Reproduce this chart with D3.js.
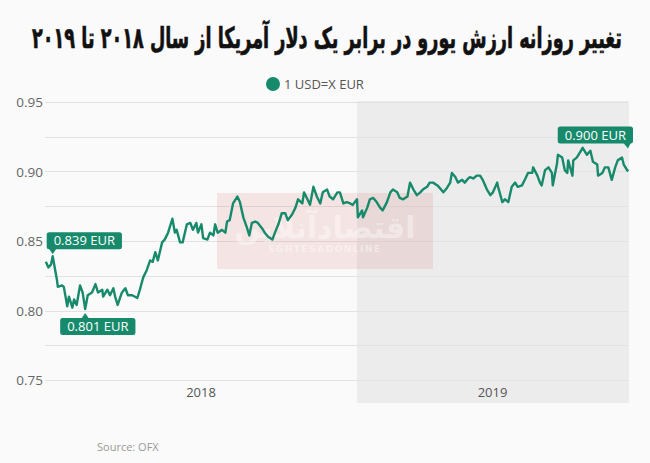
<!DOCTYPE html>
<html>
<head>
<meta charset="utf-8">
<script src="https://cdn.jsdelivr.net/npm/d3@7"></script>
<style>
  body { margin: 0; background: #fafafa; }
  svg { display: block; }
</style>
</head>
<body>
<script>
const WIDTH = 650;
const HEIGHT = 463;
const GREEN = '#178a6b';

const TITLE = 'تغییر روزانه ارزش یورو در برابر یک دلار آمریکا از سال ۲۰۱۸ تا ۲۰۱۹';
const SERIES_NAME = '1 USD=X EUR';
const SOURCE = 'Source: OFX';

// days since 1 Jan 2018, and the USD->EUR rate
const dayOffsets = [
  1, 4, 7, 9, 14, 15, 20, 22, 26, 28, 32, 34, 37, 41, 44, 47, 50, 55, 59, 62,
  67, 68, 73, 76, 80, 82, 85, 90, 94, 97, 102, 108, 111, 115, 119, 123, 126, 129, 132, 137,
  140, 144, 149, 152, 154, 158, 161, 166, 170, 173, 177, 179, 183, 185, 190, 193, 197, 199, 202, 207,
  211, 213, 216, 220, 225, 228, 232, 236, 239, 242, 246, 249, 254, 257, 261, 266, 269, 273, 277, 281,
  284, 289, 293, 296, 301, 303, 307, 310, 314, 318, 322, 325, 330, 333, 337, 342, 345, 349, 353, 357,
  360, 365, 366, 371, 372, 377, 380, 384, 388, 392, 395, 400, 404, 407, 412, 415, 419, 424, 427, 431,
  435, 439, 442, 447, 450, 454, 459, 462, 466, 470, 474, 476, 480, 483, 488, 491, 495, 497, 501, 505,
  509, 512, 517, 521, 524, 529, 530, 535, 538, 542, 546, 550, 553, 558, 562, 565, 570, 571, 576, 579,
  581, 585, 589, 593, 594, 599, 600, 605, 608, 611, 612, 617, 618, 622, 626, 629, 634, 638, 641, 646,
  647, 652, 655, 659, 663, 667, 670, 675, 677, 682
];
const rates = [
  0.835, 0.831, 0.833, 0.839, 0.822, 0.817, 0.818, 0.817, 0.803, 0.810, 0.802, 0.808, 0.804, 0.818, 0.813, 0.801, 0.811, 0.813, 0.819, 0.813,
  0.815, 0.810, 0.815, 0.811, 0.816, 0.810, 0.804, 0.813, 0.816, 0.811, 0.811, 0.809, 0.815, 0.824, 0.829, 0.836, 0.835, 0.842, 0.836, 0.849,
  0.851, 0.856, 0.866, 0.856, 0.858, 0.849, 0.849, 0.862, 0.863, 0.858, 0.863, 0.856, 0.862, 0.852, 0.851, 0.856, 0.854, 0.862, 0.856, 0.858,
  0.856, 0.864, 0.865, 0.877, 0.882, 0.878, 0.867, 0.860, 0.854, 0.863, 0.864, 0.863, 0.859, 0.856, 0.853, 0.851, 0.856, 0.862, 0.870, 0.870,
  0.865, 0.869, 0.874, 0.880, 0.877, 0.885, 0.880, 0.876, 0.889, 0.882, 0.877, 0.885, 0.887, 0.882, 0.880, 0.885, 0.885, 0.877, 0.878, 0.877,
  0.876, 0.880, 0.867, 0.872, 0.867, 0.874, 0.880, 0.881, 0.878, 0.874, 0.872, 0.878, 0.885, 0.887, 0.885, 0.881, 0.880, 0.882, 0.892, 0.887,
  0.883, 0.885, 0.887, 0.889, 0.892, 0.892, 0.890, 0.888, 0.885, 0.888, 0.892, 0.899, 0.896, 0.892, 0.894, 0.892, 0.895, 0.896, 0.895, 0.897,
  0.897, 0.894, 0.887, 0.883, 0.885, 0.892, 0.889, 0.878, 0.880, 0.878, 0.889, 0.892, 0.889, 0.890, 0.895, 0.899, 0.899, 0.903, 0.897, 0.892,
  0.890, 0.901, 0.903, 0.899, 0.890, 0.906, 0.912, 0.910, 0.901, 0.899, 0.908, 0.897, 0.908, 0.910, 0.914, 0.917, 0.912, 0.915, 0.907, 0.905,
  0.897, 0.899, 0.903, 0.903, 0.894, 0.903, 0.908, 0.910, 0.905, 0.900
];

const yLabelTicks = [0.75, 0.80, 0.85, 0.90, 0.95];
const yGridTicks = [0.75, 0.775, 0.80, 0.825, 0.85, 0.875, 0.90, 0.925, 0.95];
const years = ['2018', '2019'];

// callouts: which point and what the box says
const calloutDays = [9, 47, 682];
const calloutLabels = ['0.839 EUR', '0.801 EUR', '0.900 EUR'];

const START = new Date(2018, 0, 1);
const END = d3.timeDay.offset(START, 682);
const data = dayOffsets.map((d, i) => ({ date: d3.timeDay.offset(START, d), value: rates[i] }));

const svg = d3.select('body').append('svg')
    .attr('width', WIDTH)
    .attr('height', HEIGHT);

svg.append('rect').attr('width', WIDTH).attr('height', HEIGHT).attr('fill', '#fafafa');

const x = d3.scaleTime().domain([START, END]).range([45, 628]);
const y = d3.scaleLinear().domain([0.75, 0.95]).range([380, 102]);

// shaded 2019 band
const y2019 = new Date(2019, 0, 1);
svg.append('rect')
    .attr('x', x(y2019))
    .attr('y', 101)
    .attr('width', x(END) - x(y2019) + 1)
    .attr('height', 302)
    .attr('fill', '#ececec');

// gridlines
svg.append('g').selectAll('line')
    .data(yGridTicks)
    .join('line')
    .attr('x1', 45).attr('x2', 628)
    .attr('y1', d => Math.round(y(d)) + 0.5)
    .attr('y2', d => Math.round(y(d)) + 0.5)
    .attr('stroke', '#e2e2e2')
    .attr('stroke-width', 1);

// y labels
svg.append('g').selectAll('text')
    .data(yLabelTicks)
    .join('text')
    .attr('x', 43)
    .attr('y', d => y(d) + 5)
    .attr('text-anchor', 'end')
    .attr('font-family', '"Open Sans", sans-serif')
    .attr('font-size', 13.5)
    .attr('fill', '#666')
    .text(d => d.toFixed(2));

// year labels, centred in each year's span
const yearSpans = [[START, y2019], [y2019, END]];
svg.append('g').selectAll('text')
    .data(years)
    .join('text')
    .attr('x', (d, i) => (x(yearSpans[i][0]) + x(yearSpans[i][1])) / 2)
    .attr('y', 397)
    .attr('text-anchor', 'middle')
    .attr('font-family', '"Open Sans", sans-serif')
    .attr('font-size', 13)
    .attr('fill', '#555')
    .text(d => d);

// watermark
const wm = svg.append('g');
wm.append('rect')
    .attr('x', 217).attr('y', 193)
    .attr('width', 216).attr('height', 76)
    .attr('fill', 'rgb(215, 70, 70)')
    .attr('opacity', 0.12);
wm.append('text')
    .attr('x', 325).attr('y', 238)
    .attr('text-anchor', 'middle')
    .attr('direction', 'rtl')
    .attr('font-family', '"DejaVu Sans", sans-serif')
    .attr('font-weight', 'bold')
    .attr('font-size', 30)
    .attr('fill', '#fff')
    .attr('opacity', 0.4)
    .text('اقتصادآنلاین');
wm.append('text')
    .attr('x', 325).attr('y', 252)
    .attr('text-anchor', 'middle')
    .attr('font-family', '"DejaVu Sans", sans-serif')
    .attr('font-weight', 'bold')
    .attr('font-size', 9)
    .attr('letter-spacing', 1.5)
    .attr('fill', '#fff')
    .attr('opacity', 0.4)
    .text('EGHTESADONLINE');

// the series
const line = d3.line()
    .x(d => x(d.date))
    .y(d => y(d.value));

svg.append('path')
    .datum(data)
    .attr('d', line)
    .attr('fill', 'none')
    .attr('stroke', GREEN)
    .attr('stroke-width', 2.4)
    .attr('stroke-linejoin', 'round');

// callouts
const calloutLayout = [
  { dx: -6, boxY: -24, tail: 'down' },
  { dx: -25, boxY: 9, tail: 'up' },
  { dx: -73, boxY: -45, tail: 'down-right' }
];

calloutDays.forEach((day, i) => {
    const pt = data.find(d => +d.date === +d3.timeDay.offset(START, day));
    const px = x(pt.date);
    const py = y(pt.value);
    const L = calloutLayout[i];
    const g = svg.append('g');
    const t = g.append('text')
        .attr('font-family', '"Open Sans", sans-serif')
        .attr('font-size', 13)
        .attr('fill', '#fff')
        .text(calloutLabels[i]);
    const w = t.node().getComputedTextLength() + 14;
    const h = 17;
    const bx = L.tail === 'down-right' ? px + 5 - w : px + L.dx;
    const by = py + L.boxY;
    g.insert('rect', 'text')
        .attr('x', bx).attr('y', by)
        .attr('width', w).attr('height', h)
        .attr('rx', 2.5)
        .attr('fill', GREEN);
    let tri;
    if (L.tail === 'down') tri = [[px - 4, by + h - 1], [px + 4, by + h - 1], [px, by + h + 5]];
    else if (L.tail === 'up') tri = [[px - 4, by + 1], [px + 4, by + 1], [px, by - 5]];
    else tri = [[px - 5, by + h - 1], [px + 3, by + h - 1], [px, by + h + 5]];
    g.insert('path', 'text')
        .attr('d', d3.line()(tri) + 'Z')
        .attr('fill', GREEN);
    t.attr('x', bx + 7).attr('y', by + 13);
});

// legend
svg.append('circle')
    .attr('cx', 273).attr('cy', 84).attr('r', 7)
    .attr('fill', GREEN);
svg.append('text')
    .attr('x', 284).attr('y', 89)
    .attr('font-family', '"Open Sans", sans-serif')
    .attr('font-size', 13)
    .attr('fill', '#555')
    .text(SERIES_NAME);

// title: tall heavy glyphs, squeezed to the width of the original
const title = svg.append('text')
    .attr('x', 0)
    .attr('y', 0)
    .attr('text-anchor', 'middle')
    .attr('direction', 'rtl')
    .attr('font-family', '"DejaVu Sans", sans-serif')
    .attr('font-weight', 'bold')
    .attr('font-size', 29)
    .attr('fill', '#111')
    .attr('stroke', '#111')
    .attr('stroke-width', 0.7)
    .text(TITLE);
const tw = title.node().getComputedTextLength();
title.attr('transform', `translate(${WIDTH / 2 + 2},48) scale(${590 / tw},1)`);

// source
svg.append('text')
    .attr('x', 97).attr('y', 451)
    .attr('font-family', '"Open Sans", sans-serif')
    .attr('font-size', 11)
    .attr('fill', '#999')
    .text(SOURCE);
</script>
</body>
</html>
